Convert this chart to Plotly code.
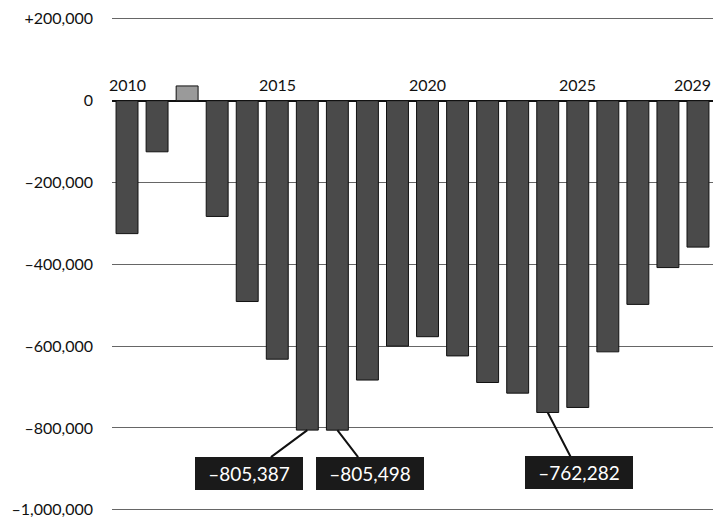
import plotly.graph_objects as go

# Annual balance, 2010-2029
years = list(range(2010, 2030))
balance = [-325000, -125000, 36000, -283000, -491000, -632000, -805387, -805498,
           -683000, -600000, -577000, -624000, -689000, -715000, -762282, -750000,
           -614000, -498000, -408000, -358000]

# Years marked above the zero line
year_labels = [2010, 2015, 2020, 2025, 2029]

# Y axis ticks
y_ticks = [200000, 0, -200000, -400000, -600000, -800000, -1000000]
y_tick_text = ["+200,000", "0", "–200,000", "–400,000", "–600,000", "–800,000", "–1,000,000"]

# Highlighted values (year, value, label offset in px)
callouts = [(2016, -805387, -58, 43), (2017, -805498, 33, 43), (2024, -762282, 31, 60)]

FONT = "Lato"

colors = ["#9a9a9a" if v > 0 else "#4a4a4a" for v in balance]

fig = go.Figure(go.Bar(
    x=years, y=balance, width=0.73,
    marker=dict(color=colors, line=dict(color="#111111", width=1)),
    hoverinfo="x+y",
))

annotations = []
for yr in year_labels:
    last = yr == years[-1]
    annotations.append(dict(
        x=(yr + 0.5) if last else yr, y=0, xref="x", yref="y", text=str(yr),
        showarrow=False, xanchor="right" if last else "center",
        yanchor="bottom", yshift=5, font=dict(family=FONT, size=16, color="#111111"),
    ))

for yr, val, dx, dy in callouts:
    annotations.append(dict(
        x=yr, y=val, xref="x", yref="y", text=f"–{abs(val):,}",
        showarrow=True, arrowhead=0, arrowwidth=2, arrowcolor="#111111",
        ax=dx, ay=dy, standoff=0,
        bgcolor="#1a1a1a", bordercolor="#1a1a1a", borderwidth=1, borderpad=3,
        width=100, height=25,
        font=dict(family=FONT, size=19, color="white"),
    ))

fig.update_layout(
    width=713, height=519,
    margin=dict(l=112, r=0, t=16, b=6),
    paper_bgcolor="white", plot_bgcolor="white",
    showlegend=False, bargap=0.27,
    annotations=annotations,
    font=dict(family=FONT, size=16, color="#111111"),
)

fig.update_xaxes(
    range=[2009.5, 2029.5], showticklabels=False, showgrid=False,
    zeroline=False, showline=False, ticks="",
)

fig.update_yaxes(
    range=[-1008000, 207000], tickvals=y_ticks, ticktext=y_tick_text,
    showgrid=True, gridcolor="#666666", gridwidth=1,
    zeroline=True, zerolinecolor="#111111", zerolinewidth=2,
    showline=False, ticks="", ticklabelstandoff=18,
    tickfont=dict(family=FONT, size=16, color="#111111"),
)

fig.write_html("out.html")
